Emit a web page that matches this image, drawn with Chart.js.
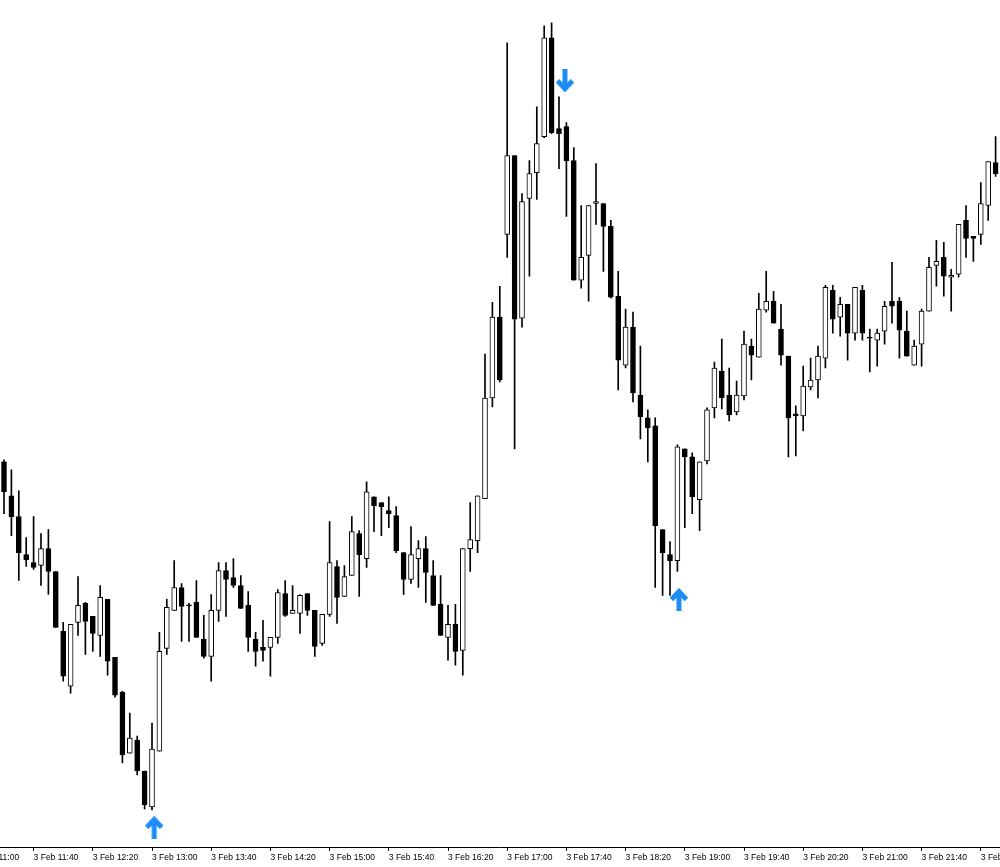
<!DOCTYPE html>
<html>
<head>
  <meta charset="utf-8">
  <title>3 Feb candles</title>
  <style>
    * { margin: 0; padding: 0; }
    body { background: #fff; }
  </style>
  <script src="https://cdn.jsdelivr.net/npm/chart.js"></script>
</head>
<body>
  <canvas id="candles" width="1000" height="867"></canvas>
  <script>
    // 5 minute candles, index 0 = 3 Feb 11:20 (price in points, no scale shown)
    const openP = [387,353,332,294,286,283,300,277,217,162,226,245,232,213,249,191,156,95,108,77,
      41,97,200,238,261,243.5,246,209,192,238,278,271,263,243,209,201,201,211,255,235,
      235,255,238,205,234,282,252,273,315,290,352,346,338,333,296,269,290,300,273,244,
      211,224,198,300,308,350,451,532,615,694,531,651,677,713,812,721,723,689,569,594,
      646,646,623,553,484,522,454,431,423,319,294,288,400,392,349,388,441,478,454,437,
      453,503,492,539,548,520,493,435,433,462,469,491,559,532,545,516,559,512,509,518,
      548,548,518,484,505,538,584,592,572,575,629,613,615,644,687];
    const highP = [389,379,358,311,332,315,319,277,226,224,272,246,232,263,249,191,157,135,112,77,
      125,216,249,288,265,245,268,233,254,286,286,290,273,257,216,228,211,259,268,263,
      254,255,238,234,327,288,283,332,318,367,352,346,352,342,296,322,308,312,288,273,
      243,244,300,346,353,495,547,563,807,694,656,689,743,824,827,753,727,702,644,644,
      686,646,629,578,540,537,503,439,431,319,307,404,400,396,387,441,487,510,481,468,
      518,510,556,578,558,545,493,443,483,491,503,564,564,552,545,562,564,520,520,548,
      587,552,538,509,540,592,609,607,580,625,644,613,667,688,713];
    const lowP = [335,313,268,282,279,263,254,221,167,155,213,194,197,192,173,151,85,95,73,39,
      38,97,194,238,207,207,211,190,167,227,232,261,240,197,182,187,172,205,232,235,
      215,233,192,203,232,225,252,273,252,281,317,313,321,296,254,265,261,246,243,213,
      188,183,173,277,296,350,442,467,592,400,522,573,650,712,716,681,633,569,561,548,
      625,578,551,459,481,447,410,387,261,253,253,277,321,335,318,385,431,440,428,434,
      449,469,492,537,526,484,392,393,418,459,451,481,516,513,489,509,509,477,483,505,
      526,491,493,484,483,538,563,553,538,572,592,588,605,629,673];
    const closeP = [357,332,296,289,281,300,277,221,172,224,243,227,215,251,187,153,93,110,77,43,
      99,197,241,261,242,242.5,211,192,238,278,269,263,240,211,197,198,211,256,233,238,
      253,238,202,234,286,251,272,317,294,357,343,342,335,298,269,294,300,276,243,213,
      224,197,300,309,353,451,532,469,694,530,648,676,706,812,717,716,689,569,592,644,
      648,623,552,489,522,456,432,421,323,296,288,402,392,352,387,439,481,451,434,454,
      505,494,540,548,526,494,431,433,463,469,493,562,530,545,516,562,516,511,516,543,
      543,519,493,503,538,582,588,573,574,625,611,611,646,688,676];

    // arrow signals: candle position and price level of the arrow centre
    const buyX = [20.3, 91.2];
    const buyY = [20.5, 249];
    const sellX = [75.8];
    const sellY = [769];

    const tickIdx = [-4,4,12,20,28,36,44,52,60,68,76,84,92,100,108,116,124,132];
    const tickLabels = ['3 Feb 11:00','3 Feb 11:40','3 Feb 12:20','3 Feb 13:00','3 Feb 13:40',
      '3 Feb 14:20','3 Feb 15:00','3 Feb 15:40','3 Feb 16:20','3 Feb 17:00','3 Feb 17:40',
      '3 Feb 18:20','3 Feb 19:00','3 Feb 19:40','3 Feb 20:20','3 Feb 21:00','3 Feb 21:40','3 Feb 22:20'];

    const barSpacing = 7.4;

    // blue arrow glyphs used as point styles
    function makeArrow(up) {
      const c = document.createElement('canvas');
      c.width = 18; c.height = 23;
      const g = c.getContext('2d');
      g.strokeStyle = '#1e8cf5';
      g.lineCap = 'butt';
      g.lineJoin = 'miter';
      if (!up) { g.translate(0, 23); g.scale(1, -1); }
      g.lineWidth = 5;
      g.beginPath();
      g.moveTo(9, 4); g.lineTo(9, 23);
      g.stroke();
      g.beginPath();
      g.moveTo(1.5, 11.5); g.lineTo(9, 3.5); g.lineTo(16.5, 11.5);
      g.stroke();
      return c;
    }

    const bodies = openP.map((o, i) => ({ x: i, y: [o, closeP[i]] }));
    const wicks = lowP.map((l, i) => ({ x: i, y: [l, highP[i]] }));
    const bodyColors = openP.map((o, i) => closeP[i] >= o ? '#ffffff' : '#000000');

    const ctx = document.getElementById('candles').getContext('2d');
    new Chart(ctx, {
      type: 'bar',
      data: {
        datasets: [
          {
            data: bodies,
            backgroundColor: bodyColors,
            borderColor: '#000',
            borderWidth: 1,
            borderSkipped: false,
            barThickness: 5,
            grouped: false,
            order: 1
          },
          {
            data: wicks,
            backgroundColor: '#000',
            borderWidth: 0,
            barThickness: 1,
            grouped: false,
            order: 2
          },
          {
            type: 'scatter',
            data: buyX.map((x, i) => ({ x: x, y: buyY[i] })),
            pointStyle: makeArrow(true),
            order: 0
          },
          {
            type: 'scatter',
            data: sellX.map((x, i) => ({ x: x, y: sellY[i] })),
            pointStyle: makeArrow(false),
            order: 0
          }
        ]
      },
      options: {
        responsive: false,
        animation: false,
        layout: { autoPadding: false, padding: { left: 0, right: 0, top: 0, bottom: 2 } },
        plugins: { legend: { display: false }, tooltip: { enabled: false } },
        scales: {
          x: {
            type: 'linear',
            offset: false,
            min: -4 / barSpacing,
            max: (1000 - 4) / barSpacing,
            afterBuildTicks: (scale) => {
              scale.ticks = tickIdx.map(v => ({ value: v }));
            },
            afterFit: (scale) => {
              scale.paddingLeft = 0;
              scale.paddingRight = 0;
            },
            grid: { display: true, offset: false, drawOnChartArea: false, drawTicks: true, tickLength: 3, color: '#000' },
            border: { display: true, color: '#000', width: 1 },
            ticks: {
              autoSkip: false,
              maxRotation: 0,
              align: 'start',
              padding: 2,
              color: '#000',
              font: { family: 'Liberation Sans', size: 8.5 },
              callback: (v, i) => tickLabels[i]
            }
          },
          y: {
            display: false,
            min: 0,
            max: 850
          }
        }
      }
    });
  </script>
</body>
</html>
